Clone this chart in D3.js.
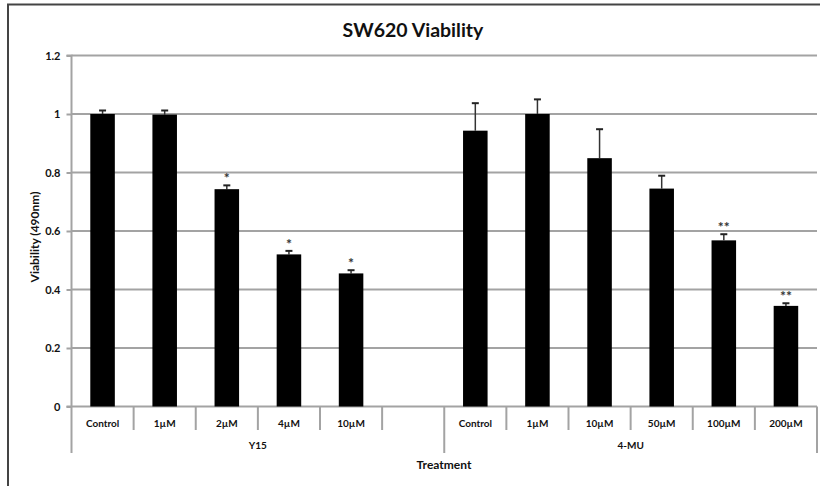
<!DOCTYPE html>
<html><head><meta charset="utf-8">
<script src="https://cdn.jsdelivr.net/npm/d3@7"></script>
<style>
html,body{margin:0;padding:0;background:#fff;}
svg{display:block;font-family:Lato,"Open Sans",sans-serif;}
</style></head>
<body>
<svg id="chart" width="820" height="486"></svg>
<script>
// ---- data ----
const title = "SW620 Viability";
const yTitle = "Viability (490nm)";
const xTitle = "Treatment";
const groups = ["Y15", "4-MU"];
const y15Labels = ["Control", "1µM", "2µM", "4µM", "10µM", ""];
const y15Values = [1.0, 0.998, 0.743, 0.52, 0.455, null];
const y15Errors = [0.012, 0.014, 0.013, 0.012, 0.011, null];
const y15Sig = ["", "", "*", "*", "*", ""];
const mu4Labels = ["Control", "1µM", "10µM", "50µM", "100µM", "200µM"];
const mu4Values = [0.943, 1.0, 0.849, 0.745, 0.568, 0.344];
const mu4Errors = [0.094, 0.05, 0.099, 0.044, 0.021, 0.009];
const mu4Sig = ["", "", "", "", "**", "**"];
const yTicks = [0, 0.2, 0.4, 0.6, 0.8, 1, 1.2];

(function () {
const rows = [];
y15Labels.forEach((l, i) => rows.push({group: "Y15", label: l, key: "Y15|" + i, v: y15Values[i], e: y15Errors[i], sig: y15Sig[i]}));
mu4Labels.forEach((l, i) => rows.push({group: "4-MU", label: l, key: "4-MU|" + i, v: mu4Values[i], e: mu4Errors[i], sig: mu4Sig[i]}));

const svg = d3.select("#chart");
const pLeft = 71.5, pRight = 817, pTop = 55.5, pBottom = 406.5;
const x = d3.scaleBand().domain(rows.map(d => d.key)).range([pLeft, pRight]).paddingInner(0.605).paddingOuter(0.3025);
const y = d3.scaleLinear().domain([0, 1.2]).range([pBottom, pTop]);
const step = x.step();
const gridCol = "#a3a3a3";

// outer border
svg.append("rect").attr("x", 8).attr("y", 4.5).attr("width", 830).attr("height", 490)
  .attr("fill", "none").attr("stroke", "#444").attr("stroke-width", 2);

// title
svg.append("text").attr("x", 413).attr("y", 37).attr("text-anchor", "middle")
  .attr("font-size", 19.5).attr("font-weight", 700).attr("fill", "#111").text(title);

// gridlines
svg.append("g").selectAll("line").data(yTicks.filter(t => t > 0)).join("line")
  .attr("x1", pLeft).attr("x2", pRight).attr("y1", d => y(d)).attr("y2", d => y(d))
  .attr("stroke", gridCol).attr("stroke-width", 2);

// y axis
const yAxis = svg.append("g").attr("transform", `translate(${pLeft},0)`)
  .call(d3.axisLeft(y).tickValues(yTicks).tickSize(5).tickPadding(6).tickFormat(d => d3.format("~g")(d)));
yAxis.select(".domain").attr("stroke", gridCol).attr("stroke-width", 2).attr("d", `M-5,${pTop}H0V${pBottom}`);
yAxis.selectAll(".tick line").attr("stroke", gridCol).attr("stroke-width", 2);
yAxis.selectAll(".tick text").attr("font-size", 11).attr("font-weight", 700).attr("fill", "#111")
  .attr("font-family", "Lato, sans-serif");

svg.append("text").attr("transform", `translate(39,${(pTop + pBottom) / 2 + 6}) rotate(-90)`)
  .attr("text-anchor", "middle").attr("font-size", 12).attr("font-weight", 700).attr("fill", "#111").text(yTitle);

// x axis baseline
svg.append("line").attr("x1", pLeft - 5).attr("x2", pRight).attr("y1", pBottom).attr("y2", pBottom)
  .attr("stroke", gridCol).attr("stroke-width", 2);

// category separators
const seps = svg.append("g");
rows.forEach((d, i) => {
  const xs = x(d.key) - (step - x.bandwidth()) / 2;
  const isGroupStart = i === 0 || rows[i - 1].group !== d.group;
  seps.append("line").attr("x1", xs).attr("x2", xs).attr("y1", pBottom).attr("y2", isGroupStart ? 453 : 430)
    .attr("stroke", gridCol).attr("stroke-width", 2);
});
seps.append("line").attr("x1", pRight).attr("x2", pRight).attr("y1", pBottom).attr("y2", 453)
  .attr("stroke", gridCol).attr("stroke-width", 2);

// category labels
svg.append("g").selectAll("text").data(rows).join("text")
  .attr("x", d => x(d.key) + x.bandwidth() / 2).attr("y", 426.5).attr("text-anchor", "middle")
  .attr("font-size", 10).attr("font-weight", 700).attr("fill", "#111").text(d => d.label);

// group labels
groups.forEach(g => {
  const ks = rows.filter(r => r.group === g);
  const x0 = x(ks[0].key) - (step - x.bandwidth()) / 2;
  const x1 = x(ks[ks.length - 1].key) + x.bandwidth() + (step - x.bandwidth()) / 2;
  svg.append("text").attr("x", (x0 + x1) / 2).attr("y", 449).attr("text-anchor", "middle")
    .attr("font-size", 10).attr("font-weight", 700).attr("fill", "#111").text(g);
});

svg.append("text").attr("x", 444).attr("y", 468.5).attr("text-anchor", "middle")
  .attr("font-size", 12).attr("font-weight", 700).attr("fill", "#111").text(xTitle);

const data = rows.filter(d => d.v != null);

// error bars
const eb = svg.append("g");
data.forEach(d => {
  const cx = x(d.key) + x.bandwidth() / 2;
  eb.append("line").attr("x1", cx).attr("x2", cx).attr("y1", y(d.v)).attr("y2", y(d.v + d.e))
    .attr("stroke", "#333").attr("stroke-width", 1.5);
  eb.append("line").attr("x1", cx - 3.5).attr("x2", cx + 3.5).attr("y1", y(d.v + d.e)).attr("y2", y(d.v + d.e))
    .attr("stroke", "#222").attr("stroke-width", 2);
});

// bars
svg.append("g").selectAll("rect").data(data).join("rect")
  .attr("x", d => x(d.key)).attr("width", x.bandwidth())
  .attr("y", d => y(d.v)).attr("height", d => y(0) - y(d.v)).attr("fill", "#000");

// significance marks
svg.append("g").selectAll("text").data(data.filter(d => d.sig)).join("text")
  .attr("x", d => x(d.key) + x.bandwidth() / 2).attr("y", d => y(d.v + d.e) - 2)
  .attr("text-anchor", "middle").attr("font-size", 14).attr("font-weight", 700).attr("fill", "#333")
  .text(d => d.sig);
})();
</script>
</body></html>
